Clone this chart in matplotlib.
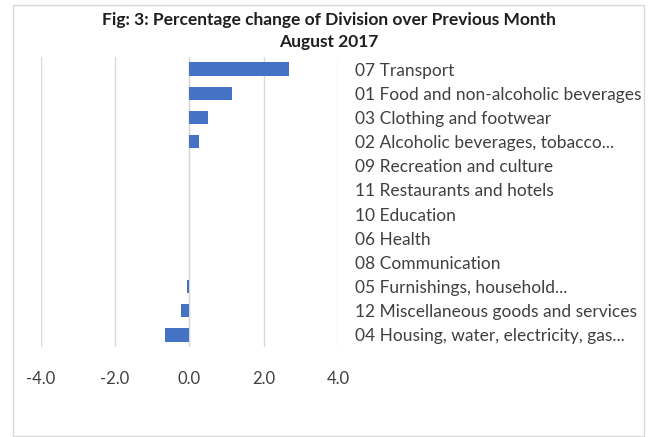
import matplotlib
matplotlib.use("Agg")
import matplotlib.pyplot as plt
from matplotlib.patches import Rectangle

categories = [
    "07 Transport",
    "01 Food and non-alcoholic beverages",
    "03 Clothing and footwear",
    "02 Alcoholic beverages, tobacco...",
    "09 Recreation and culture",
    "11 Restaurants and hotels",
    "10 Education",
    "06 Health",
    "08 Communication",
    "05 Furnishings, household...",
    "12 Miscellaneous goods and services",
    "04 Housing, water, electricity, gas...",
]
values = [2.68, 1.16, 0.49, 0.26, 0.0, 0.0, 0.0, 0.0, 0.0, -0.07, -0.23, -0.66]
xticks = [-4.0, -2.0, 0.0, 2.0, 4.0]
xtick_labels = ["-4.0", "-2.0", "0.0", "2.0", "4.0"]
title = "Fig: 3: Percentage change of Division over Previous Month\nAugust 2017"

W, H = 649, 437
plt.rcParams['font.family'] = ['Lato', 'DejaVu Sans']
fig = plt.figure(figsize=(W / 100, H / 100), dpi=100)

# chart area border
fig.patches.append(Rectangle((13 / W, 1 - 436 / H), (644 - 13) / W, (436 - 5) / H,
                             transform=fig.transFigure, fill=False,
                             edgecolor='#D9D9D9', linewidth=1.0))

left, right, top, bottom = 40.7, 338, 57, 347
ax = fig.add_axes([left / W, 1 - bottom / H, (right - left) / W, (bottom - top) / H])

y = list(range(len(categories)))
ax.barh(y, values, height=0.55, color='#4472C4', zorder=3)
ax.set_ylim(len(categories) - 0.5, -0.5)
ax.set_xlim(-4, 4)

ax.set_xticks(xticks)
ax.set_xticklabels(xtick_labels)
ax.grid(axis='x', color='#D9D9D9', linewidth=1.0, zorder=0)
ax.axvline(0, color='#D9D9D9', linewidth=1.0, zorder=1)

ax.yaxis.tick_right()
ax.set_yticks(y)
ax.set_yticklabels(categories)
ax.tick_params(axis='y', length=0, pad=12, labelsize=12.5, labelcolor='#404040')
ax.tick_params(axis='x', length=0, pad=17, labelsize=12, labelcolor='#404040')
for s in ax.spines.values():
    s.set_visible(False)

fig.text(329 / W, 1 - 31 / H, title, ha='center', va='center', fontsize=12.5,
         fontweight='bold', color='#1F1F1F', linespacing=1.4)

fig.savefig("out.png", dpi=100)
